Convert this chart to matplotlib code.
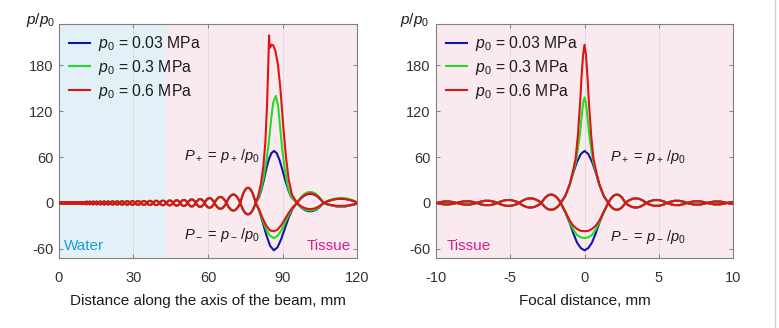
import matplotlib
matplotlib.use("Agg")
import matplotlib.pyplot as plt
from matplotlib.path import Path
from matplotlib.patches import PathPatch
from matplotlib.lines import Line2D

plt.rcParams["font.family"] = ["Liberation Sans", "DejaVu Sans"]
plt.rcParams["mathtext.fontset"] = "custom"
plt.rcParams["mathtext.rm"] = "Liberation Sans"
plt.rcParams["mathtext.it"] = "Liberation Sans:italic"
plt.rcParams["mathtext.sf"] = "Liberation Sans"
plt.rcParams["axes.unicode_minus"] = False

# ---------------- data ----------------
series_labels = [r"$p_0$ = 0.03 MPa", r"$p_0$ = 0.3 MPa", r"$p_0$ = 0.6 MPa"]
series_colors = ["#1414a8", "#22dd22", "#dd1414"]

water_end = 43.0
left_xticks = [0, 30, 60, 90, 120]
right_xticks = [-10, -5, 0, 5, 10]
yticks = [-60, 0, 60, 120, 180]

# Left panel: pre-focal interference lobes (nodes in mm, lobe peaks in p/p0)
left_pre_nodes = [-0.8, 0.3, 1.4, 2.5, 3.6, 4.7, 5.8, 6.9, 8.1, 9.3, 10.5, 11.8,
                  13.1, 14.5, 15.9, 17.4, 19.0, 20.7, 22.5, 24.4, 26.4, 28.5,
                  30.7, 33.0, 35.4, 37.9, 40.5, 43.2, 46.0, 48.8, 51.8, 55.1,
                  58.6, 62.6, 67.4, 73.0, 79.2]
left_pre_pos = [1.3, 1.3, 1.4, 1.4, 1.4, 1.5, 1.5, 1.5, 1.6, 1.6, 1.7,
                1.7, 1.8, 1.8, 1.9, 2.0, 2.0, 2.1, 2.2, 2.3, 2.4, 2.5, 2.6,
                2.7, 2.8, 2.9, 3.0,
                3.2, 3.6, 4.1, 4.7, 5.3, 6.4, 7.9, 11.0, 20.0]
left_pre_neg = [-1.3, -1.3, -1.4, -1.4, -1.4, -1.5, -1.5, -1.5, -1.6, -1.6, -1.7,
                -1.7, -1.8, -1.8, -1.9, -2.0, -2.0, -2.1, -2.2, -2.3, -2.4, -2.5, -2.6,
                -2.7, -2.8, -2.9, -3.0,
                -3.2, -3.6, -4.1, -4.7, -5.3, -6.3, -7.6, -10.0, -15.0]

# Left panel: focal lobe, P+ for each p0
left_pos_x_blue = [79.2, 80.5, 81.5, 82.5, 83.5, 84.5, 85.5, 86.6, 87.7, 88.8,
                   89.9, 91.0, 92.2, 93.5, 95.8]
left_pos_y_blue = [0, 7, 17, 30, 45, 57, 65, 68, 65, 56, 44, 31, 18, 8, 0]
left_pos_x_green = [79.2, 80.5, 81.5, 82.5, 83.5, 84.5, 85.5, 86.3, 87.3, 88.2,
                    89.0, 89.9, 91.0, 92.2, 93.5, 95.8]
left_pos_y_green = [0, 8, 19, 35, 55, 80, 112, 132, 140, 128, 100, 70, 42, 20, 8, 0]
left_pos_x_red = [79.2, 80.3, 81.3, 82.3, 83.1, 83.8, 84.3, 84.6, 84.75, 85.0,
                  85.6, 86.3, 87.2, 88.2, 89.2, 90.3, 91.4, 92.5, 93.8, 95.8]
left_pos_y_red = [0, 10, 25, 48, 80, 130, 185, 219, 206, 203, 207, 206, 198,
                  180, 148, 100, 60, 30, 11, 0]

# Left panel: focal lobe, P- for each p0
left_neg_x = [79.2, 80.5, 82.0, 83.5, 85.0, 86.5, 88.0, 89.5, 91.0, 92.5, 94.0, 95.8]
left_neg_y_blue = [0, -9, -25, -42, -56, -62, -58, -47, -33, -19, -8, 0]
left_neg_y_green = [0, -9, -23, -35, -43, -46, -43, -36, -26, -16, -7, 0]
left_neg_y_red = [0, -8, -20, -30, -36, -37, -35, -29, -21, -13, -6, 0]

# Left panel: post-focal lobes
left_post_nodes = [95.8, 106.5, 120.5]
left_post_pos = [[12.0, 5.5], [14.5, 6.5], [12.5, 5.5]]
left_post_neg = [[-11.0, -5.0], [-10.0, -4.5], [-8.0, -4.0]]

# Right panel: side lobes (left and right of focus)
right_side_nodes_l = [-11.2, -9.95, -8.6, -7.25, -5.85, -4.4, -2.9, -1.6]
right_side_pos_l = [2.0, 2.0, 2.3, 3.0, 4.0, 6.0, 11.0]
right_side_neg_l = [-2.0, -2.0, -2.3, -3.0, -4.0, -6.0, -9.0]
right_side_nodes_r = [1.6, 2.75, 4.15, 5.55, 6.9, 8.25, 9.6, 10.9]
right_side_pos_r = [11.0, 6.0, 4.0, 3.0, 2.3, 2.0, 1.7]
right_side_neg_r = [-9.0, -6.0, -4.0, -3.0, -2.3, -2.0, -1.7]

# Right panel: focal lobe
right_x_blue = [-1.6, -1.3, -1.0, -0.75, -0.5, -0.25, 0.0, 0.25, 0.5, 0.75, 1.0, 1.3, 1.6]
right_pos_blue = [0, 9, 24, 40, 54, 64, 68, 64, 54, 40, 24, 9, 0]
right_neg_blue = [0, -12, -26, -40, -52, -59, -62, -59, -52, -40, -26, -12, 0]
right_neg_green = [0, -12, -25, -35, -42, -45, -46, -45, -42, -35, -25, -12, 0]
right_neg_red = [0, -11, -23, -30, -34, -36.5, -37, -36.5, -34, -30, -23, -11, 0]
right_x_peak = [-1.6, -1.3, -1.0, -0.8, -0.6, -0.45, -0.3, -0.2, -0.1, 0.0,
                0.1, 0.2, 0.3, 0.45, 0.6, 0.8, 1.0, 1.3, 1.6]
right_pos_green = [0, 9, 23, 38, 52, 70, 92, 112, 130, 138,
                   130, 112, 92, 70, 52, 38, 23, 9, 0]
right_pos_red = [0, 9, 24, 40, 58, 88, 130, 165, 193, 207,
                 193, 165, 130, 88, 58, 40, 24, 9, 0]

# ---------------- styling ----------------
LW = 1.5
water_color = "#e2f0f8"
tissue_color = "#fbe9f0"
spine_color = "#808080"
text_color = "#1a1a1a"
tick_color = "#333333"
ann_plus = r"$P_+$ = $p_+\,/p_0$"
ann_minus = r"$P_-$ = $p_-\,/p_0$"


def lobe_path(nodes, peaks):
    verts = [(nodes[0], 0.0)]
    codes = [Path.MOVETO]
    for i, pk in enumerate(peaks):
        x0, x1 = nodes[i], nodes[i + 1]
        verts += [((x0 + x1) / 2.0, 2.0 * pk), (x1, 0.0)]
        codes += [Path.CURVE3, Path.CURVE3]
    return Path(verts, codes)


def add_lobes(ax, nodes, peaks, color, z):
    ax.add_patch(PathPatch(lobe_path(nodes, peaks), fill=False, edgecolor=color,
                           lw=LW, zorder=z, capstyle="round", joinstyle="round"))


def style_axes(ax, xticks):
    ax.set_ylim(-72, 234)
    ax.set_yticks(yticks)
    ax.set_xticks(xticks)
    ax.tick_params(direction="in", top=True, right=True, length=3, width=0.7,
                   color=spine_color, labelsize=10.5, labelcolor=tick_color)
    ax.tick_params(axis="x", pad=9)
    ax.tick_params(axis="y", pad=4)
    for s in ax.spines.values():
        s.set_color(spine_color)
        s.set_linewidth(0.8)
    ax.grid(axis="x", color="#d9d9e2", lw=0.6, zorder=0.5)
    ax.set_axisbelow(True)


fig = plt.figure(figsize=(7.79, 3.28), dpi=100)
axL = fig.add_axes([0.0757, 0.2134, 0.3826, 0.7134])
axR = fig.add_axes([0.5597, 0.2134, 0.3813, 0.7134])

# ---- left panel ----
axL.set_xlim(left_xticks[0], left_xticks[-1])
axL.axvspan(left_xticks[0], water_end, color=water_color, zorder=0, lw=0)
axL.axvspan(water_end, left_xticks[-1], color=tissue_color, zorder=0, lw=0)
style_axes(axL, left_xticks)

pos_x = [left_pos_x_blue, left_pos_x_green, left_pos_x_red]
pos_y = [left_pos_y_blue, left_pos_y_green, left_pos_y_red]
neg_y = [left_neg_y_blue, left_neg_y_green, left_neg_y_red]
for i, c in enumerate(series_colors):
    z = 2 + i
    add_lobes(axL, left_pre_nodes, left_pre_pos, c, z)
    add_lobes(axL, left_pre_nodes, left_pre_neg, c, z)
    axL.plot(pos_x[i], pos_y[i], color=c, lw=LW, zorder=z, label=series_labels[i],
             solid_joinstyle="round")
    axL.plot(left_neg_x, neg_y[i], color=c, lw=LW, zorder=z, solid_joinstyle="round")
    add_lobes(axL, left_post_nodes, left_post_pos[i], c, z)
    add_lobes(axL, left_post_nodes, left_post_neg[i], c, z)

axL.set_xlabel("Distance along the axis of the beam, mm", fontsize=11,
               color=text_color, labelpad=7)
axL.text(1.8, -56, "Water", color="#1e9bd7", fontsize=11, va="center", ha="left")
axL.text(117.5, -56, "Tissue", color="#d4208a", fontsize=11, va="center", ha="right")
axL.text(50.5, 62, ann_plus, fontsize=10.5, color=text_color, va="center", ha="left")
axL.text(50.5, -42, ann_minus, fontsize=10.5, color=text_color, va="center", ha="left")

# ---- right panel ----
axR.set_xlim(right_xticks[0], right_xticks[-1])
axR.set_facecolor(tissue_color)
style_axes(axR, right_xticks)

r_pos_x = [right_x_blue, right_x_peak, right_x_peak]
r_pos_y = [right_pos_blue, right_pos_green, right_pos_red]
r_neg_y = [right_neg_blue, right_neg_green, right_neg_red]
for i, c in enumerate(series_colors):
    z = 2 + i
    add_lobes(axR, right_side_nodes_l, right_side_pos_l, c, z)
    add_lobes(axR, right_side_nodes_l, right_side_neg_l, c, z)
    add_lobes(axR, right_side_nodes_r, right_side_pos_r, c, z)
    add_lobes(axR, right_side_nodes_r, right_side_neg_r, c, z)
    axR.plot(r_pos_x[i], r_pos_y[i], color=c, lw=LW, zorder=z, label=series_labels[i],
             solid_joinstyle="round")
    axR.plot(right_x_blue, r_neg_y[i], color=c, lw=LW, zorder=z, solid_joinstyle="round")

axR.set_xlabel("Focal distance, mm", fontsize=11, color=text_color, labelpad=7)
axR.text(-9.3, -56, "Tissue", color="#d4208a", fontsize=11, va="center", ha="left")
axR.text(1.7, 60, ann_plus, fontsize=10.5, color=text_color, va="center", ha="left")
axR.text(1.7, -44, ann_minus, fontsize=10.5, color=text_color, va="center", ha="left")

for ax in (axL, axR):
    leg = ax.legend(loc="upper left", frameon=False, fontsize=11.3,
                    handlelength=1.3, handletextpad=0.55, labelspacing=0.3,
                    borderaxespad=0.3, borderpad=0.35)
    for t in leg.get_texts():
        t.set_color(text_color)

fig.text(0.0334, 0.939, r"$p/p_0$", fontsize=11, color=text_color, va="center", ha="left")
fig.text(0.5135, 0.939, r"$p/p_0$", fontsize=11, color=text_color, va="center", ha="left")
fig.add_artist(Line2D([0.995, 0.995], [0, 1], color="#d0d0d0", lw=1,
                      transform=fig.transFigure))

fig.savefig("out.png", dpi=100)
